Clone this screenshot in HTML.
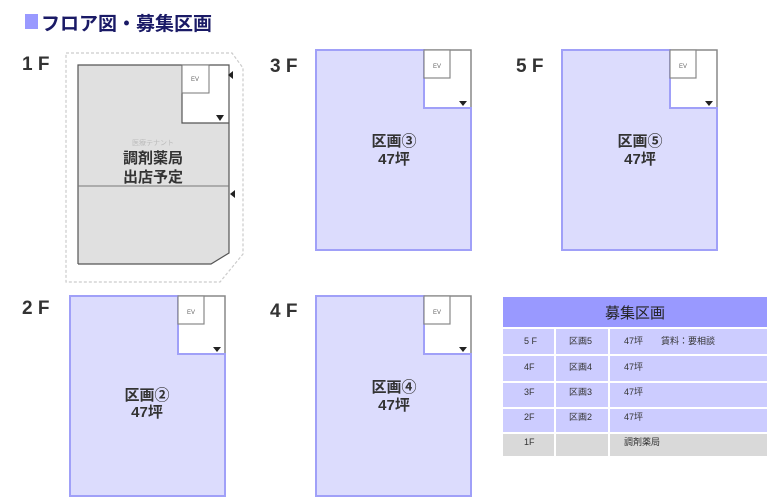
<!DOCTYPE html>
<html><head><meta charset="utf-8"><style>
body{margin:0;background:#fff;width:767px;height:504px;overflow:hidden}
svg{display:block;font-family:"Liberation Sans","Noto Sans CJK JP",sans-serif}
</style></head><body>
<svg width="767" height="504" viewBox="0 0 767 504">
<defs>
<g id="plan">
<polygon points="0,0 108,0 108,58 155,58 155,200 0,200" fill="#dcdcfd" stroke="#a0a0f8" stroke-width="2"/>
<polyline points="108,0 155,0 155,58" fill="none" stroke="#888" stroke-width="1.5"/>
<line x1="0" y1="200" x2="155" y2="200" stroke="#888" stroke-width="1"/>
<line x1="0" y1="0" x2="0" y2="200" stroke="#888" stroke-width="1"/>
<polygon points="0,0 108,0 108,58 155,58 155,200 0,200" fill="none" stroke="#a0a0f8" stroke-width="2"/>
<rect x="108" y="0" width="26" height="28" fill="#fff" stroke="#888" stroke-width="1.2"/>
<text x="121" y="18" font-size="6" fill="#666" text-anchor="middle">EV</text>
<polygon points="143,51 151,51 147,56" fill="#222"/>
</g>
</defs>
<rect x="25" y="14" width="13" height="15" fill="#9999ff"/>
<text x="41" y="30" font-size="19" font-weight="bold" fill="#1a1a66">フロア図・募集区画</text>
<g font-size="19" font-weight="bold" fill="#333">
<text x="22" y="70">1 F</text><text x="270" y="72">3 F</text><text x="516" y="72">5 F</text>
<text x="22" y="314">2 F</text><text x="270" y="317">4 F</text></g>
<!-- 1F -->
<polygon points="66,53 232,53 243,68 243,254 220,282 66,282" fill="none" stroke="#ccc" stroke-dasharray="3,2" stroke-width="1.2"/>
<polygon points="78,65 182,65 182,123 229,123 229,253 211,264 78,264" fill="#e0e0e0"/>
<polyline points="78,264 78,65 229,65 229,253 211,264 78,264" fill="none" stroke="#555" stroke-width="1.2"/>
<line x1="78" y1="186" x2="229" y2="186" stroke="#777"/>
<polyline points="182,65 182,123 229,123" fill="none" stroke="#555" stroke-width="1.2"/>
<rect x="182" y="65" width="27" height="28" fill="#fff" stroke="#777"/>
<text x="195" y="81" font-size="6" fill="#666" text-anchor="middle">EV</text>
<polygon points="216,115 224,115 220,121" fill="#222"/>
<polygon points="233,71 233,79 228,75" fill="#222"/>
<polygon points="235,190 235,198 230,194" fill="#222"/>
<text x="153" y="145" font-size="7" fill="#bbb" text-anchor="middle">医療テナント</text>
<g font-size="15" font-weight="bold" fill="#333" text-anchor="middle">
<text x="153" y="163">調剤薬局</text><text x="153" y="182">出店予定</text></g>
<use href="#plan" x="316" y="50"/>
<use href="#plan" x="562" y="50"/>
<use href="#plan" x="70" y="296"/>
<use href="#plan" x="316" y="296"/>
<g font-size="15" font-weight="bold" fill="#333" text-anchor="middle">
<text x="394" y="146">区画③</text><text x="394" y="164">47坪</text>
<text x="640" y="146">区画⑤</text><text x="640" y="164">47坪</text>
<text x="147" y="400">区画②</text><text x="147" y="417">47坪</text>
<text x="394" y="392">区画④</text><text x="394" y="410">47坪</text></g>
<!-- table -->
<rect x="503" y="297" width="264" height="30" fill="#9999ff"/>
<text x="635" y="318" font-size="15" fill="#222" text-anchor="middle">募集区画</text>
<g fill="#ccccff">
<rect x="503" y="329" width="51" height="25"/><rect x="556" y="329" width="52" height="25"/><rect x="610" y="329" width="157" height="25"/>
<rect x="503" y="356" width="51" height="25"/><rect x="556" y="356" width="52" height="25"/><rect x="610" y="356" width="157" height="25"/>
<rect x="503" y="383" width="51" height="24"/><rect x="556" y="383" width="52" height="24"/><rect x="610" y="383" width="157" height="24"/>
<rect x="503" y="409" width="51" height="23"/><rect x="556" y="409" width="52" height="23"/><rect x="610" y="409" width="157" height="23"/></g>
<g fill="#d9d9d9"><rect x="503" y="434" width="51" height="22"/><rect x="556" y="434" width="52" height="22"/><rect x="610" y="434" width="157" height="22"/></g>
<g font-size="9" fill="#333">
<text x="524" y="344">5 F</text><text x="569" y="344">区画5</text><text x="624" y="344">47坪　　賃料：要相談</text>
<text x="524" y="370">4F</text><text x="569" y="370">区画4</text><text x="624" y="370">47坪</text>
<text x="524" y="395">3F</text><text x="569" y="395">区画3</text><text x="624" y="395">47坪</text>
<text x="524" y="420">2F</text><text x="569" y="420">区画2</text><text x="624" y="420">47坪</text>
<text x="524" y="445">1F</text><text x="624" y="445">調剤薬局</text></g>
</svg>
</body></html>
